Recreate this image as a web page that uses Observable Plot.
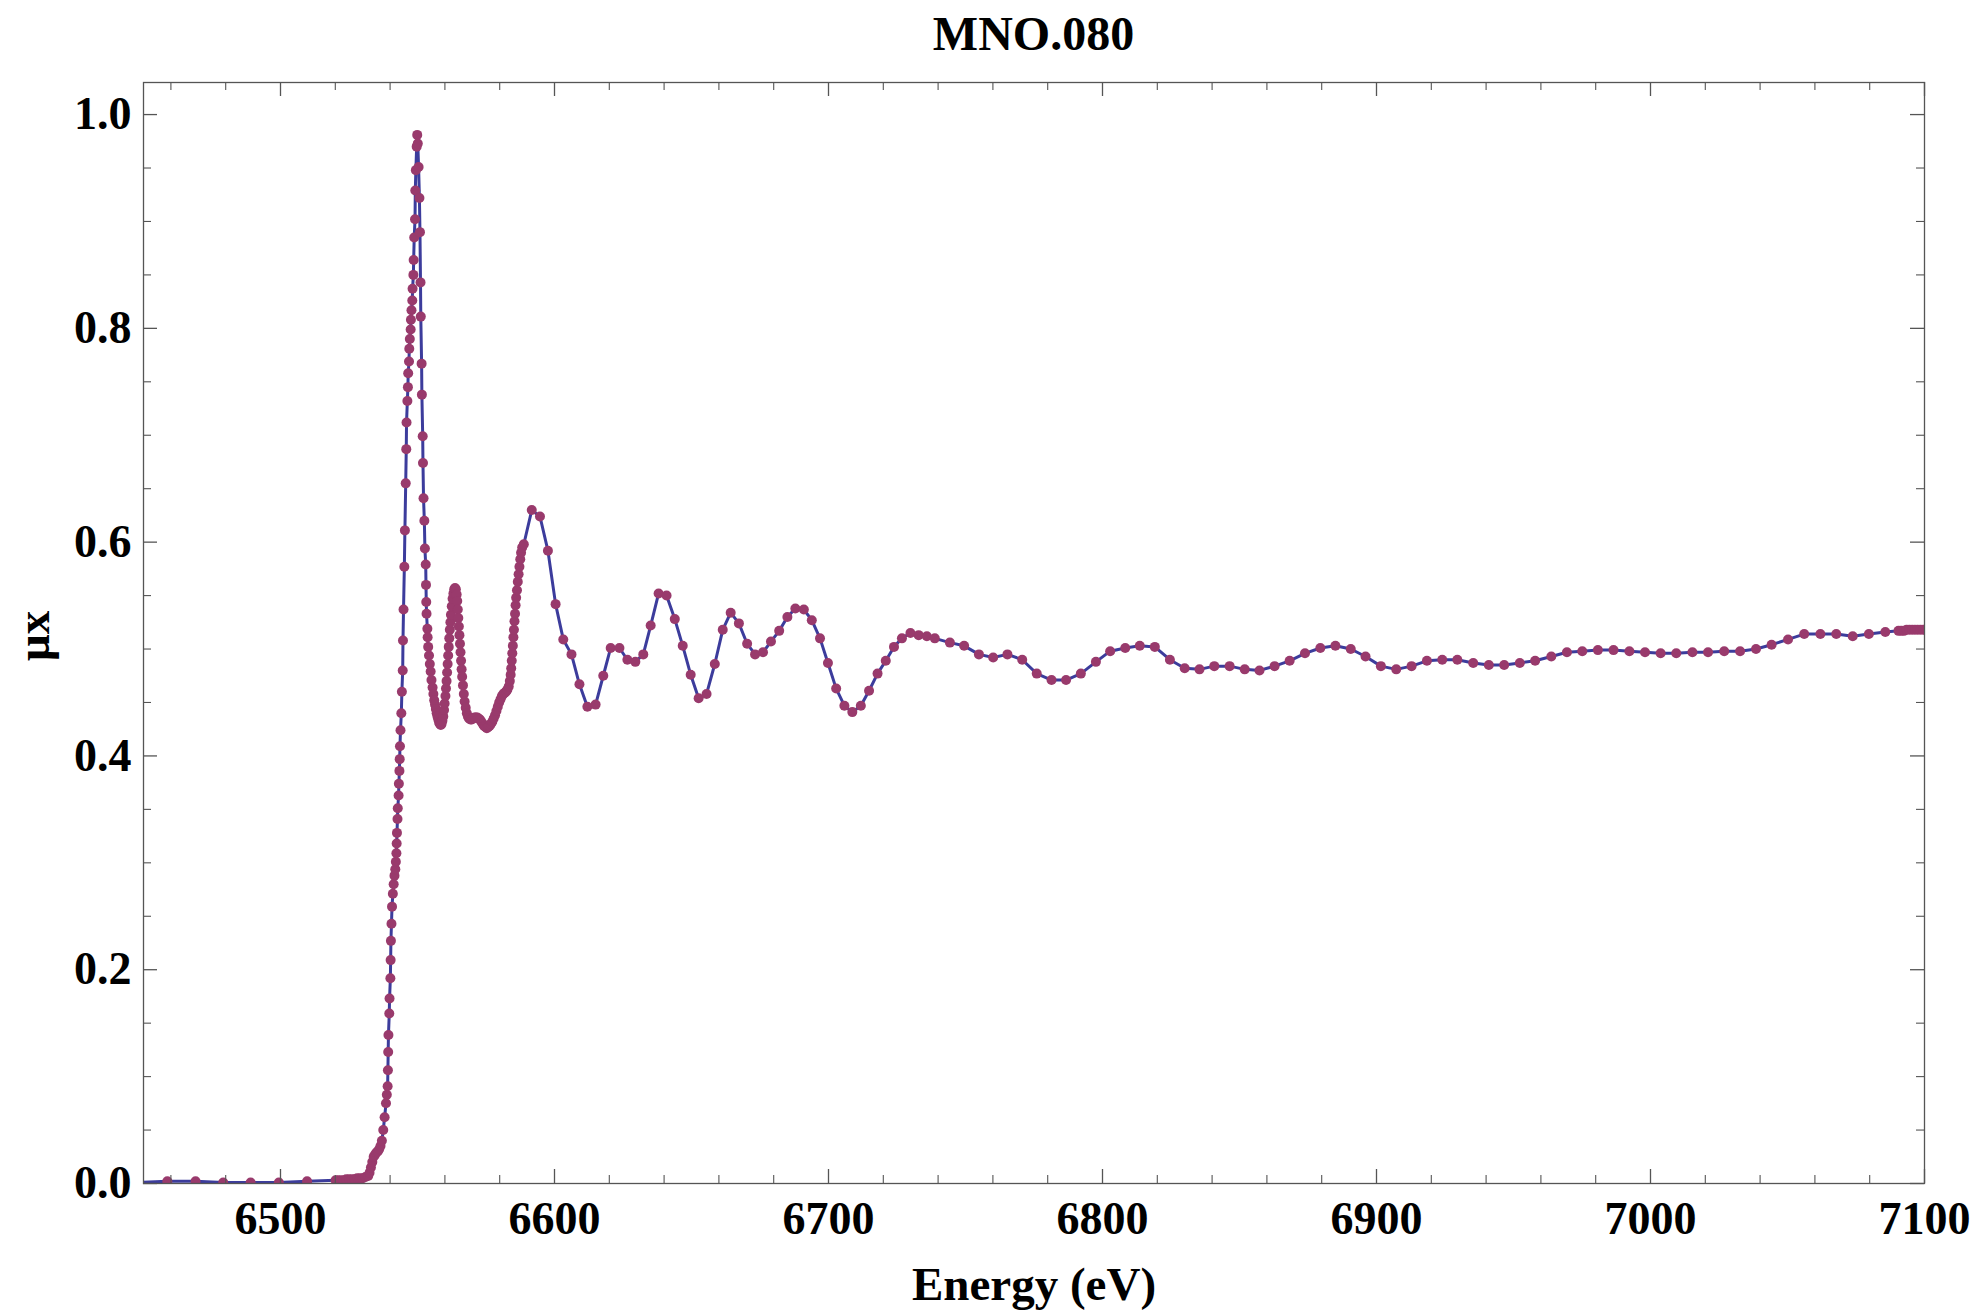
<!DOCTYPE html>
<html>
<head>
<meta charset="utf-8">
<script src="https://cdn.jsdelivr.net/npm/d3@7"></script>
<script src="https://cdn.jsdelivr.net/npm/@observablehq/plot@0.6"></script>
<style>
  html, body { margin: 0; padding: 0; background: #fff; }
  #wrap { position: relative; width: 1982px; height: 1312px; }
  #title { position: absolute; left: 143px; width: 1781px; top: 6px; height: 68px; line-height: 68px;
           text-align: center; font: bold 48px "Liberation Serif", "Times New Roman", serif; color: #000; }
  #chart { position: absolute; left: 0; top: 68px; }
</style>
</head>
<body>
<div id="wrap">
  <div id="title">MNO.080</div>
  <div id="chart"></div>
</div>
<script>
// ---- data ----
const energy = [
  6448.4, 6458.7, 6469.0, 6479.1, 6489.1, 6499.4, 6509.7, 6520.1,
  6521.0, 6522.0, 6523.0, 6524.0, 6525.0, 6526.0, 6527.0, 6528.0, 6529.0, 6530.0, 6531.0, 6532.0,
  6532.5, 6533.0, 6533.5, 6534.0, 6534.5, 6535.0, 6535.5, 6536.0, 6536.5, 6537.0, 6537.5, 6538.0, 6538.5, 6538.8,
  6539.1, 6539.2, 6539.3, 6539.4, 6539.7, 6539.8, 6540.1, 6540.2, 6540.3, 6540.5, 6540.7, 6541.0, 6541.3, 6541.6,
  6541.9, 6542.1, 6542.3, 6542.4, 6542.5, 6542.7, 6542.8, 6543.1, 6543.2, 6543.4, 6543.5, 6543.6, 6543.8, 6544.1,
  6544.3, 6544.6, 6544.7, 6544.9, 6545.2, 6545.4, 6545.7, 6545.9, 6546.0, 6546.3, 6546.5, 6546.6, 6546.9, 6547.0,
  6547.2, 6547.5, 6547.6, 6547.8, 6548.1, 6548.2, 6548.5, 6548.6, 6548.8, 6549.1, 6549.2, 6549.4, 6549.7, 6549.9,
  6550.1, 6550.4, 6550.7, 6550.9, 6551.1, 6551.2, 6551.5, 6551.6, 6551.9, 6552.0, 6552.2, 6552.5, 6552.7, 6553.0,
  6553.1, 6553.2, 6553.3, 6553.6, 6553.7, 6553.9, 6554.2,
  6554.5, 6554.8, 6555.1, 6555.5, 6555.8, 6556.1, 6556.4, 6556.7, 6557.0, 6557.3, 6557.6, 6557.9, 6558.2, 6558.5,
  6558.8, 6559.1, 6559.4, 6559.7, 6559.9, 6560.2, 6560.4, 6560.6, 6560.8, 6561.0, 6561.2, 6561.4, 6561.6, 6561.8,
  6562.0, 6562.2, 6562.5, 6562.8, 6563.1, 6563.4, 6563.7, 6564.0, 6564.3, 6564.5, 6564.7, 6564.9, 6565.1, 6565.3,
  6565.5, 6565.7, 6565.9, 6566.1, 6566.3, 6566.6, 6566.9, 6567.2, 6567.6, 6568.0, 6568.4, 6568.8, 6569.3, 6569.8,
  6570.3, 6570.8, 6571.3, 6571.8, 6572.3, 6572.8, 6573.3, 6573.8, 6574.3, 6574.8, 6575.3, 6575.8, 6576.3, 6576.8,
  6577.3, 6577.8, 6578.3, 6578.8, 6579.3, 6579.8, 6580.3, 6580.8, 6581.3, 6581.8, 6582.3, 6582.8, 6583.3, 6583.7,
  6584.0, 6584.2, 6584.4, 6584.6, 6584.8, 6585.0, 6585.2, 6585.4, 6585.6, 6585.8, 6586.0, 6586.3, 6586.6, 6586.9,
  6587.2, 6587.5, 6587.8, 6588.2, 6588.8,
  6591.7, 6594.7, 6597.6, 6600.4, 6603.2, 6606.2, 6609.1, 6612.0, 6615.0, 6617.8, 6620.5, 6623.7, 6626.6, 6629.5,
  6632.4, 6635.1, 6638.0, 6640.9, 6643.9, 6646.8, 6649.7, 6652.6, 6655.5, 6658.5, 6661.4, 6664.3, 6667.3, 6670.3,
  6673.2, 6676.1, 6679.0, 6682.0, 6685.0, 6687.9, 6691.0, 6693.9, 6696.9, 6699.8, 6702.8, 6705.8, 6708.7, 6711.8,
  6714.8, 6717.9, 6720.9, 6723.9, 6726.8, 6729.9, 6732.9, 6735.9, 6738.8, 6744.3, 6749.5, 6754.9, 6760.1, 6765.3,
  6770.7, 6776.0, 6781.4, 6786.7, 6792.1, 6797.6, 6802.8, 6808.3, 6813.6, 6819.1, 6824.6, 6830.0, 6835.4, 6840.8,
  6846.4, 6851.9, 6857.3, 6862.8, 6868.3, 6873.9, 6879.5, 6885.0, 6890.6, 6896.0, 6901.6, 6907.2, 6912.8, 6918.4,
  6924.0, 6929.5, 6935.3, 6941.0, 6946.6, 6952.3, 6957.9, 6963.8, 6969.5, 6975.1, 6980.8, 6986.5, 6992.3, 6998.0,
  7003.7, 7009.4, 7015.3, 7021.0, 7026.9, 7032.7, 7038.5, 7044.2, 7050.2, 7056.1, 7062.0, 7067.8, 7073.8, 7079.7,
  7085.7, 7090.5, 7091.5, 7092.5, 7093.5, 7094.5, 7095.5, 7096.5, 7097.5, 7098.5, 7099.5, 7100.5
];
const mu = [
  0.001, 0.002, 0.002, 0.001, 0.001, 0.001, 0.002, 0.003,
  0.003, 0.003, 0.003, 0.004, 0.004, 0.004, 0.004, 0.005, 0.005, 0.005, 0.006, 0.007,
  0.010, 0.015, 0.020, 0.025, 0.027, 0.029, 0.030, 0.032, 0.035, 0.040, 0.050, 0.062, 0.075, 0.083,
  0.091, 0.106, 0.123, 0.139, 0.159, 0.173, 0.192, 0.209, 0.227, 0.243, 0.259, 0.271, 0.280, 0.288,
  0.294, 0.301, 0.309, 0.318, 0.328, 0.341, 0.351, 0.363, 0.374, 0.386, 0.397, 0.409, 0.424, 0.440,
  0.460, 0.480, 0.508, 0.537, 0.577, 0.611, 0.655, 0.687, 0.712, 0.732, 0.745, 0.758, 0.769, 0.781,
  0.790, 0.799, 0.808, 0.817, 0.826, 0.837, 0.850, 0.864, 0.885, 0.902, 0.929, 0.948, 0.970, 0.981,
  0.973, 0.951, 0.922, 0.890, 0.843, 0.811, 0.767, 0.738, 0.699, 0.674, 0.641, 0.620, 0.594, 0.579,
  0.560, 0.544, 0.533, 0.519, 0.511, 0.502, 0.494,
  0.486, 0.479, 0.471, 0.464, 0.458, 0.452, 0.448, 0.444, 0.440, 0.437, 0.434, 0.431, 0.430, 0.429,
  0.430, 0.433, 0.437, 0.443, 0.449, 0.456, 0.463, 0.470, 0.478, 0.486, 0.494, 0.502, 0.510, 0.518,
  0.525, 0.532, 0.540, 0.547, 0.552, 0.556, 0.557, 0.556, 0.551, 0.545, 0.537, 0.529, 0.521, 0.513,
  0.505, 0.497, 0.489, 0.481, 0.474, 0.466, 0.458, 0.451, 0.445, 0.440, 0.437, 0.435, 0.434, 0.434,
  0.435, 0.436, 0.436, 0.436, 0.435, 0.434, 0.432, 0.430, 0.428, 0.427, 0.426, 0.427, 0.428, 0.430,
  0.432, 0.435, 0.438, 0.442, 0.446, 0.450, 0.453, 0.456, 0.458, 0.459, 0.460, 0.462, 0.465, 0.470,
  0.476, 0.482, 0.489, 0.496, 0.503, 0.511, 0.518, 0.526, 0.533, 0.541, 0.548, 0.555, 0.563, 0.570,
  0.577, 0.584, 0.590, 0.595, 0.598,
  0.630, 0.624, 0.592, 0.542, 0.509, 0.495, 0.467, 0.446, 0.448, 0.475, 0.501, 0.501, 0.490, 0.488,
  0.495, 0.522, 0.552, 0.550, 0.528, 0.503, 0.476, 0.454, 0.458, 0.486, 0.518, 0.534, 0.524, 0.505,
  0.495, 0.497, 0.507, 0.517, 0.530, 0.538, 0.537, 0.527, 0.510, 0.487, 0.463, 0.447, 0.441, 0.447,
  0.461, 0.477, 0.489, 0.502, 0.510, 0.515, 0.513, 0.512, 0.510, 0.506, 0.503, 0.495, 0.492, 0.495,
  0.490, 0.477, 0.471, 0.471, 0.477, 0.488, 0.498, 0.501, 0.503, 0.502, 0.490, 0.482, 0.481, 0.484,
  0.484, 0.481, 0.480, 0.484, 0.489, 0.496, 0.501, 0.503, 0.500, 0.493, 0.484, 0.481, 0.484, 0.489,
  0.490, 0.490, 0.487, 0.485, 0.485, 0.487, 0.489, 0.493, 0.497, 0.498, 0.499, 0.499, 0.498, 0.497,
  0.496, 0.496, 0.497, 0.497, 0.498, 0.498, 0.500, 0.504, 0.509, 0.514, 0.514, 0.514, 0.512, 0.514,
  0.516, 0.517, 0.517, 0.517, 0.518, 0.518, 0.518, 0.518, 0.518, 0.518, 0.518, 0.518
];
const xMajor = [6500, 6600, 6700, 6800, 6900, 7000, 7100];
const xMinor = [6460, 6480, 6520, 6540, 6560, 6580, 6620, 6640, 6660, 6680, 6720, 6740, 6760, 6780,
                6820, 6840, 6860, 6880, 6920, 6940, 6960, 6980, 7020, 7040, 7060, 7080];
const yMajor = [0, 0.2, 0.4, 0.6, 0.8, 1.0];
const yMinor = [0.05, 0.1, 0.15, 0.25, 0.3, 0.35, 0.45, 0.5, 0.55, 0.65, 0.7, 0.75, 0.85, 0.9, 0.95];
const xLabel = "Energy (eV)";
const yLabel = "μx";

// ---- chart ----
const rows = energy.map((e, i) => ({e, m: mu[i]}));
const W = 1982, H = 1244, mt = 14, mb = 129, ml = 143, mr = 58;
const fh = H - mt - mb, fw = W - ml - mr;
const axisColor = "#555";
const lineColor = "#3c3c9c";
const dotColor = "#993a6c";

const chart = Plot.plot({
  width: W, height: H,
  marginTop: mt, marginBottom: mb, marginLeft: ml, marginRight: mr,
  x: {domain: [6450, 7100]},
  y: {domain: [0, 1.03]},
  style: {fontFamily: '"Liberation Serif", "Times New Roman", serif', fontWeight: "bold", background: "#fff", color: "#000"},
  marks: [
    Plot.line(rows, {x: "e", y: "m", stroke: lineColor, strokeWidth: 3, clip: true}),
    Plot.dot(rows, {x: "e", y: "m", r: 5, fill: dotColor, stroke: "none", clip: true}),
    // inward ticks on all four sides
    Plot.ruleX(xMajor, {x: d => d, stroke: axisColor, strokeWidth: 1.3, insetTop: fh - 14}),
    Plot.ruleX(xMajor, {x: d => d, stroke: axisColor, strokeWidth: 1.3, insetBottom: fh - 14}),
    Plot.ruleX(xMinor, {x: d => d, stroke: axisColor, strokeWidth: 1.1, insetTop: fh - 8}),
    Plot.ruleX(xMinor, {x: d => d, stroke: axisColor, strokeWidth: 1.1, insetBottom: fh - 8}),
    Plot.ruleY(yMajor, {y: d => d, stroke: axisColor, strokeWidth: 1.3, insetRight: fw - 14}),
    Plot.ruleY(yMajor, {y: d => d, stroke: axisColor, strokeWidth: 1.3, insetLeft: fw - 14}),
    Plot.ruleY(yMinor, {y: d => d, stroke: axisColor, strokeWidth: 1.1, insetRight: fw - 8}),
    Plot.ruleY(yMinor, {y: d => d, stroke: axisColor, strokeWidth: 1.1, insetLeft: fw - 8}),
    Plot.frame({stroke: axisColor, strokeWidth: 1.3}),
    Plot.axisX(xMajor, {tickSize: 0, tickPadding: 18, fontSize: 46, tickFormat: d => String(d), label: null}),
    Plot.axisY(yMajor, {tickSize: 0, tickPadding: 12, fontSize: 46, tickFormat: d => d.toFixed(1), label: null}),
    Plot.text([xLabel], {text: d => d, frameAnchor: "bottom", lineAnchor: "top", dy: 83, fontSize: 47, fontWeight: "bold"}),
    Plot.text([yLabel], {text: d => d, frameAnchor: "left", dx: -110, dy: 28, rotate: -90, fontSize: 47, fontWeight: "bold"})
  ]
});
document.getElementById("chart").appendChild(chart);
</script>
</body>
</html>
